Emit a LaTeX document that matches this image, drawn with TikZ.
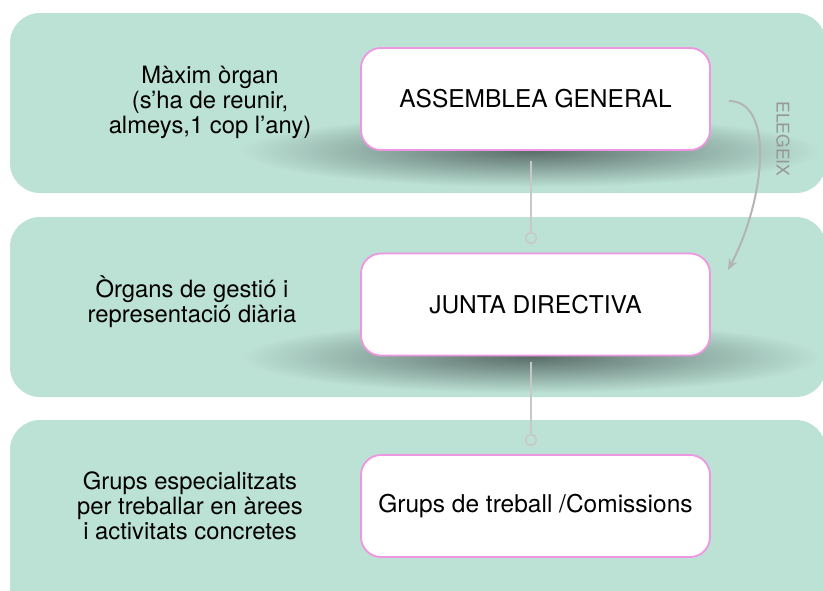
\documentclass[tikz,border=0pt]{standalone}
\usepackage{fontspec}
\setmainfont{TeX Gyre Heros}
\usetikzlibrary{positioning,arrows.meta}
\definecolor{franja}{RGB}{188, 225, 213}
\definecolor{vora}{RGB}{238, 150, 226}
\definecolor{enllac}{RGB}{200, 200, 200}
\definecolor{ombra}{RGB}{90, 110, 105}
\definecolor{rotul}{RGB}{150, 150, 150}

\tikzset{
	organ/.style={draw=vora, line width=1.8pt, fill=white, rounded corners=20pt,
		minimum width=349pt, minimum height=102pt, font=\fontsize{24.5}{27}\selectfont},
	nota/.style={align=center, font=\fontsize{23.8}{25}\selectfont},
	anella/.style={circle, draw=enllac, line width=1.5pt, fill=franja, inner sep=0pt, minimum size=11pt},
	enllacline/.style={draw=enllac, line width=2pt},
}

\begin{document}
\begin{tikzpicture}[x=1pt, y=-1pt]
			\useasboundingbox (0, 0) rectangle (823, 590);
			% franges de fons
			\fill [franja, rounded corners=30pt] (10, 13) rectangle (826, 193);
			\fill [franja, rounded corners=30pt] (10, 217) rectangle (826, 397);
			\fill [franja, rounded corners=30pt] (10, 420) rectangle (826, 640);
			% ombres
			\begin{scope}
				\clip [rounded corners=30pt] (10, 13) rectangle (826, 193);
				\shade [inner color=ombra, outer color=franja] (531, 151) ellipse [x radius=290, y radius=36];
			\end{scope}
			\begin{scope}
				\clip [rounded corners=30pt] (10, 217) rectangle (826, 397);
				\shade [inner color=ombra, outer color=franja] (531, 357) ellipse [x radius=290, y radius=36];
			\end{scope}
			% organs
			\node [organ] (assemblea) at (535.5, 99) {ASSEMBLEA GENERAL};
			\node [organ] (junta) at (535.5, 304.5) {JUNTA DIRECTIVA};
			\node [organ] (grups) at (535.5, 506) {Grups de treball /Comissions};
			% notes
			\node [nota] (notaassemblea) at (210, 102) {Màxim òrgan\\(s’ha de reunir,\\almeys,1 cop l’any)};
			\node [nota] (notajunta) at (192, 302) {Òrgans de gestió i\\representació diària};
			\node [nota] (notagrups) at (190, 506) {Grups especialitzats\\per treballar en àrees\\i activitats concretes};
			% enllacos
			\node [anella] (anella1) at (531, 238) {};
			\node [anella] (anella2) at (531, 440) {};
			\draw [enllacline, shorten <=10pt] (assemblea.south -| anella1) -- (anella1);
			\draw [enllacline, shorten <=6pt] (junta.south -| anella2) -- (anella2);
			% elegeix
			\coordinate (sortida) at (729, 101);
			\coordinate (arribada) at (728, 270);
			\draw [enllac!90!black, line width=2pt, -{Stealth[length=11pt, width=9pt]}]
				(sortida) .. controls (775, 101) and (765, 200) .. (arribada);
			\node [rotul, rotate=-90, font=\fontsize{17.5}{18}\selectfont] (elegeix) at (783, 139) {ELEGEIX};
		\end{tikzpicture}
\end{document}
